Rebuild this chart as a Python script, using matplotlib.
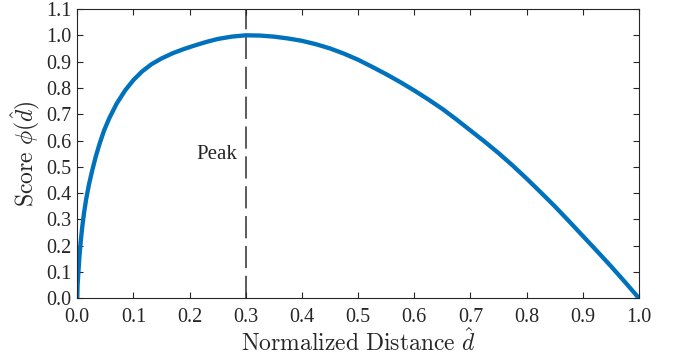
import matplotlib
matplotlib.use("Agg")
import matplotlib.pyplot as plt

# Values
d_hat = [0.0, 0.0005, 0.002, 0.0035, 0.005, 0.007, 0.009, 0.012, 0.016, 0.021,
         0.027, 0.033, 0.04, 0.048, 0.057, 0.07, 0.085, 0.1, 0.115, 0.132,
         0.15, 0.17, 0.19, 0.21, 0.23, 0.25, 0.275, 0.3, 0.325, 0.35,
         0.375, 0.4, 0.425, 0.45, 0.475, 0.5, 0.525, 0.55, 0.575, 0.6,
         0.625, 0.65, 0.675, 0.7, 0.725, 0.75, 0.775, 0.8, 0.825, 0.85,
         0.875, 0.9, 0.925, 0.95, 0.975, 1.0]
phi = [0.0, 0.05, 0.1, 0.15, 0.19, 0.235, 0.275, 0.325, 0.38, 0.435,
       0.49, 0.54, 0.59, 0.64, 0.685, 0.74, 0.79, 0.83, 0.862, 0.89,
       0.912, 0.932, 0.948, 0.962, 0.975, 0.986, 0.995, 1.0, 0.999, 0.995,
       0.988, 0.979, 0.966, 0.95, 0.93, 0.907, 0.88, 0.852, 0.822, 0.79,
       0.756, 0.72, 0.68, 0.638, 0.596, 0.552, 0.505, 0.455, 0.403, 0.35,
       0.294, 0.237, 0.18, 0.122, 0.062, 0.0]
peak_x = 0.3
x_ticks = [0.0, 0.1, 0.2, 0.3, 0.4, 0.5, 0.6, 0.7, 0.8, 0.9, 1.0]
y_ticks = [0.0, 0.1, 0.2, 0.3, 0.4, 0.5, 0.6, 0.7, 0.8, 0.9, 1.0, 1.1]

plt.rcParams['font.family'] = ['Liberation Serif', 'DejaVu Serif']
plt.rcParams['mathtext.fontset'] = 'cm'
plt.rcParams['lines.scale_dashes'] = False

fig = plt.figure(figsize=(6.77, 3.62), dpi=100)
ax = fig.add_axes([77.3 / 677, 1 - 298.3 / 362, (639 - 77.3) / 677, (298.3 - 9) / 362])

ax.axvline(peak_x, color='#404040', linewidth=1.2, dashes=(16, 5.5), zorder=1)
ax.plot(d_hat, phi, color='#0072BD', linewidth=3.1, solid_capstyle='butt',
        solid_joinstyle='round', zorder=2)
ax.text(peak_x - 0.016, 0.545, 'Peak', ha='right', va='center', fontsize=15, color='#262626')

ax.set_xlim(0, 1)
ax.set_ylim(0, 1.1)
ax.set_xticks(x_ticks)
ax.set_yticks(y_ticks)
ax.set_xticklabels([f'{v:.1f}' for v in x_ticks])
ax.set_yticklabels([f'{v:.1f}' for v in y_ticks])
ax.tick_params(direction='in', length=4, width=0.8, top=True, right=True,
               labelsize=14.5, colors='#262626')
ax.tick_params(axis='x', pad=7)
ax.tick_params(axis='y', pad=4)
for s in ax.spines.values():
    s.set_color('#262626')
    s.set_linewidth(0.8)

ax.set_xlabel(r'$\mathrm{Normalized\ Distance}\ \hat{d}$', fontsize=17, color='#262626', labelpad=1)
ax.set_ylabel(r'$\mathrm{Score}\ \phi(\hat{d})$', fontsize=17, color='#262626', labelpad=3)

fig.savefig('out.png', dpi=100)
